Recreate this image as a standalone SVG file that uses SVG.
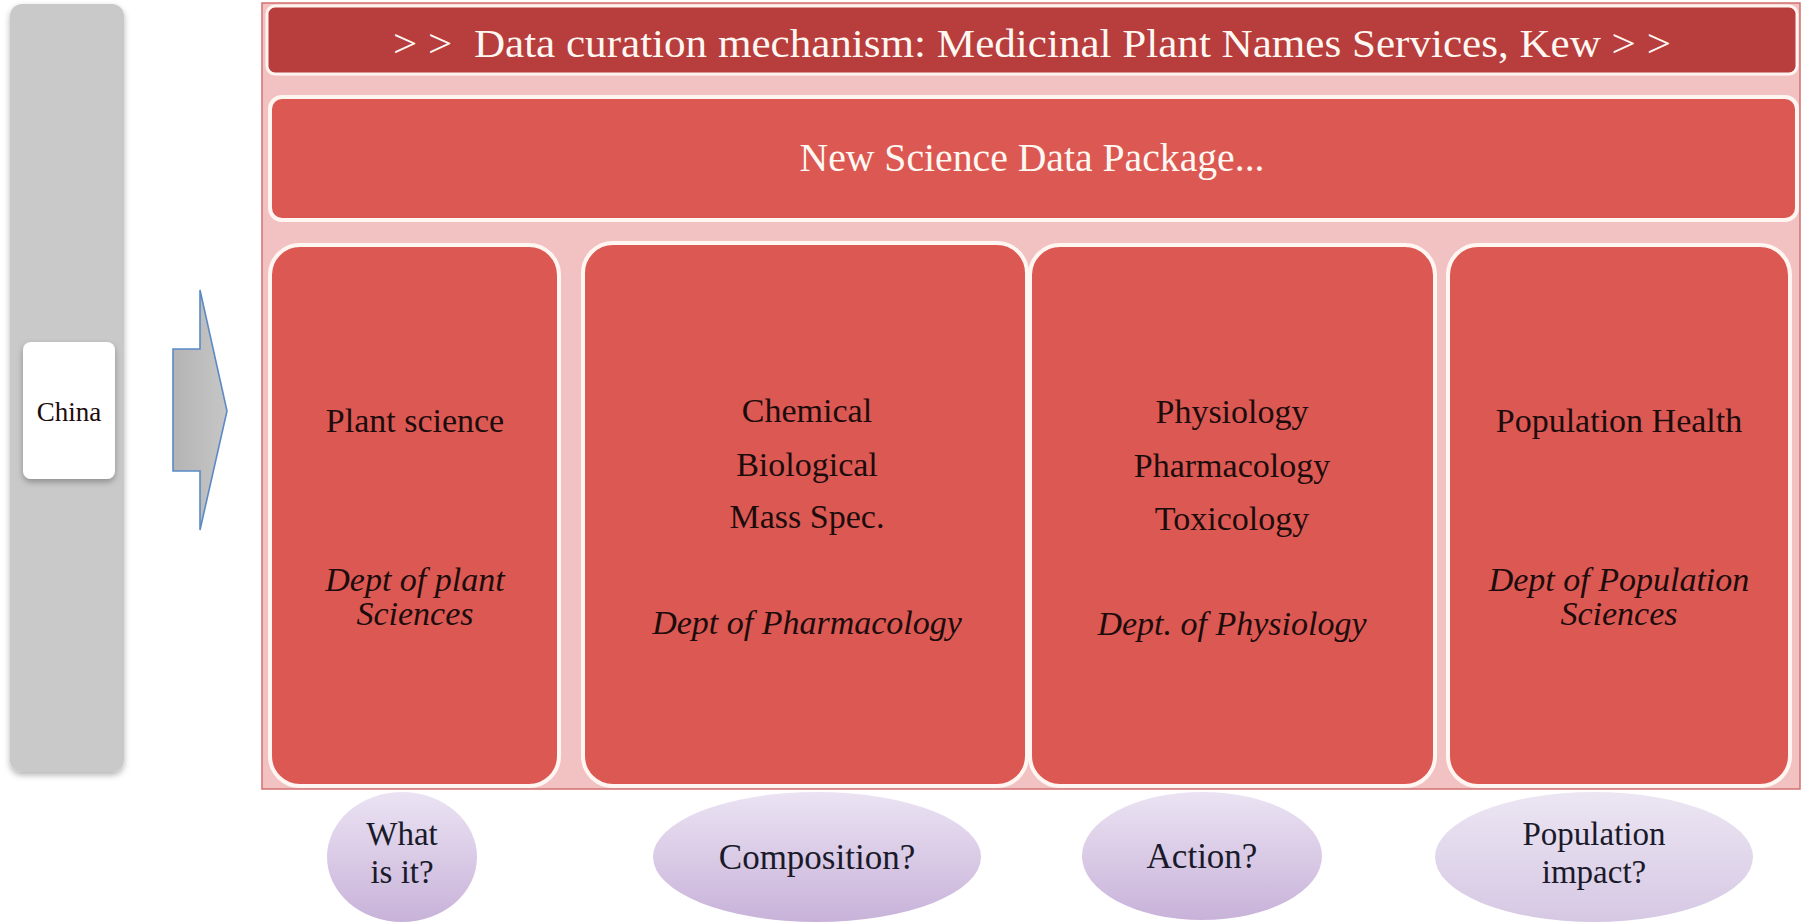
<svg xmlns="http://www.w3.org/2000/svg" width="1806" height="922" viewBox="0 0 1806 922">
<defs>
<style>
.col{fill:#dc5853;stroke:#fff6f2;stroke-width:4}
.t{font-family:"Liberation Serif","DejaVu Serif",serif;text-anchor:middle;fill:#1c0c0c}
.b{font-size:34px}
.i{font-size:34px;font-style:italic}
.e{font-size:35px;fill:#1a1a2a}
.e2{font-size:33px;fill:#1a1a2a}
.w{fill:#fff8f2}
</style>
<linearGradient id="lav" x1="0" y1="0" x2="0" y2="1">
<stop offset="0" stop-color="#ebe3f3"/>
<stop offset="1" stop-color="#c8b2d9"/>
</linearGradient>
<linearGradient id="lav2" x1="0" y1="0" x2="0" y2="1">
<stop offset="0" stop-color="#ece6f3"/>
<stop offset="1" stop-color="#d6c8e4"/>
</linearGradient>
<linearGradient id="arr" x1="0" y1="0" x2="1" y2="0">
<stop offset="0" stop-color="#b4b4b4"/>
<stop offset="1" stop-color="#c6c6c6"/>
</linearGradient>
<filter id="sh" x="-20%" y="-10%" width="140%" height="125%">
<feDropShadow dx="0" dy="3" stdDeviation="3" flood-color="#000" flood-opacity="0.3"/>
</filter>
</defs>

<g id="region-bar">
<rect x="10" y="4" width="114" height="768" rx="12" fill="#c9c9c9" filter="url(#sh)"/>
</g>
<g id="china">
<rect x="23" y="342" width="92" height="137" rx="8" fill="#ffffff" filter="url(#sh)"/>
<text class="t" x="69" y="421" font-size="27">China</text>
</g>

<g id="connectors">
<path d="M173,349 L200,349 L200,290 L227,411 L200,530 L200,471 L173,471 Z" fill="url(#arr)" stroke="#5b8ac6" stroke-width="1.6"/>
</g>

<g id="panel">
<rect x="262" y="3" width="1538" height="786" fill="#f2c2c2" stroke="#d27070" stroke-width="1.5"/>
</g>

<g id="title">
<rect x="267" y="6" width="1530" height="68" rx="8" fill="#b83d3d" stroke="#fff4f0" stroke-width="3"/>
<text class="t w" x="1032" y="57" font-size="40" textLength="1278" lengthAdjust="spacingAndGlyphs">&gt; &gt;&#160; Data curation mechanism: Medicinal Plant Names Services, Kew &gt; &gt;</text>
</g>

<g id="package">
<rect x="270" y="97" width="1527" height="123" rx="12" fill="#dc5853" stroke="#fff6f2" stroke-width="4"/>
<text class="t w" x="1032" y="171" font-size="40" textLength="465" lengthAdjust="spacingAndGlyphs">New Science Data Package...</text>
</g>

<g id="col-plant">
<rect class="col" x="270" y="245" width="289" height="541" rx="30"/>
<text class="t b" x="415" y="432">Plant science</text>
<text class="t i" x="415" y="591">Dept of plant</text>
<text class="t i" x="415" y="625">Sciences</text>
</g>

<g id="col-pharmacology">
<rect class="col" x="583" y="243" width="444" height="543" rx="30"/>
<text class="t b" x="807" y="422">Chemical</text>
<text class="t b" x="807" y="476">Biological</text>
<text class="t b" x="807" y="528">Mass Spec.</text>
<text class="t i" x="807" y="634">Dept of Pharmacology</text>
</g>

<g id="col-physiology">
<rect class="col" x="1030" y="245" width="405" height="541" rx="30"/>
<text class="t b" x="1232" y="423">Physiology</text>
<text class="t b" x="1232" y="477">Pharmacology</text>
<text class="t b" x="1232" y="530">Toxicology</text>
<text class="t i" x="1232" y="635">Dept. of Physiology</text>
</g>

<g id="col-population">
<rect class="col" x="1448" y="245" width="342" height="541" rx="30"/>
<text class="t b" x="1619" y="432">Population Health</text>
<text class="t i" x="1619" y="591">Dept of Population</text>
<text class="t i" x="1619" y="625">Sciences</text>
</g>

<g id="q-what">
<ellipse cx="402" cy="857" rx="75" ry="65" fill="url(#lav)"/>
<text class="t e2" x="402" y="845">What</text>
<text class="t e2" x="402" y="883">is it?</text>
</g>
<g id="q-composition">
<ellipse cx="817" cy="857" rx="164" ry="65" fill="url(#lav)"/>
<text class="t e" x="817" y="869">Composition?</text>
</g>
<g id="q-action">
<ellipse cx="1202" cy="856" rx="120" ry="64" fill="url(#lav)"/>
<text class="t e" x="1202" y="868">Action?</text>
</g>
<g id="q-population">
<ellipse cx="1594" cy="857" rx="159" ry="65" fill="url(#lav2)"/>
<text class="t e2" x="1594" y="845">Population</text>
<text class="t e2" x="1594" y="883">impact?</text>
</g>
</svg>
